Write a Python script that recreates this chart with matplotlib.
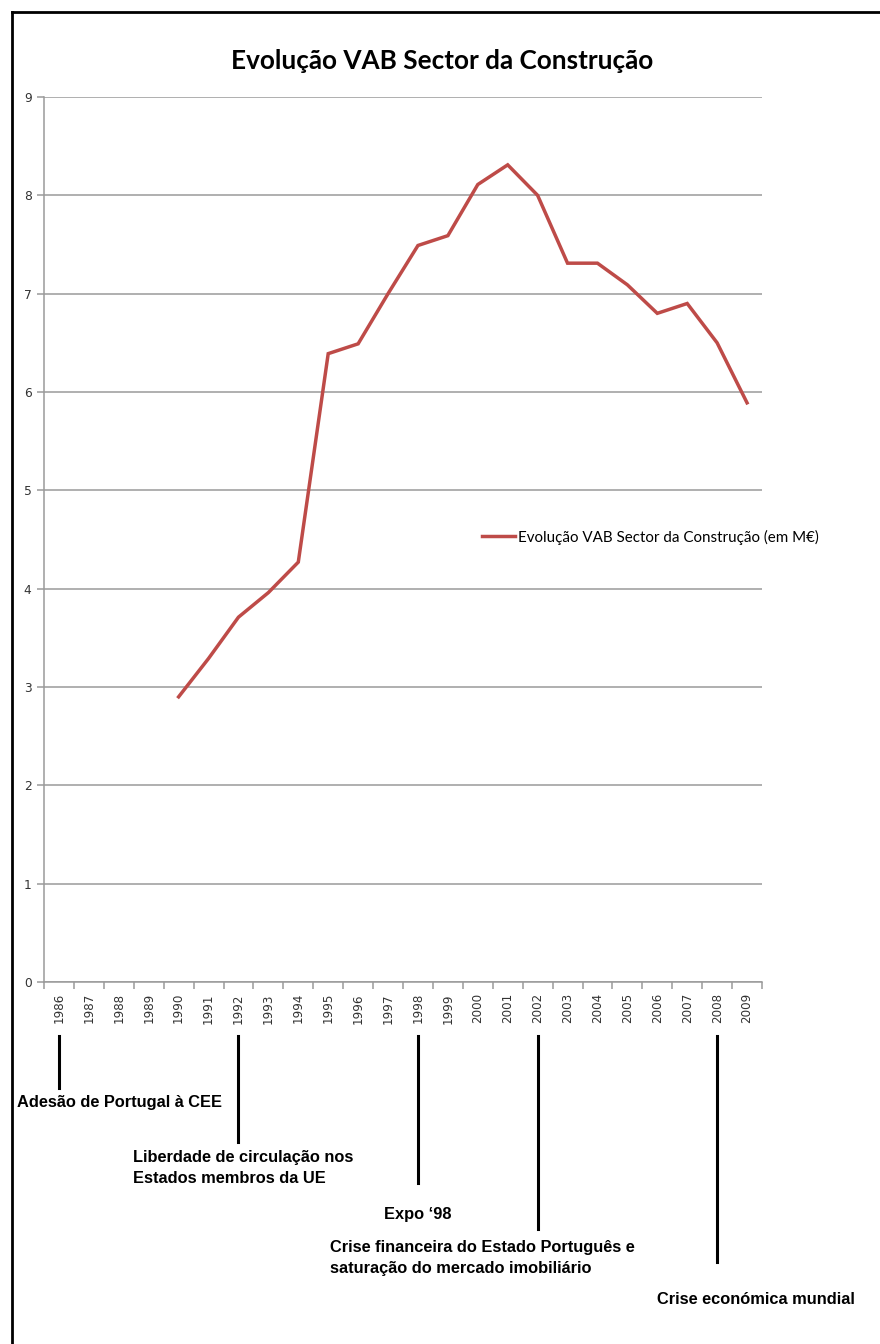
import matplotlib as mpl
mpl.use('Agg')
import matplotlib.pyplot as plt
from matplotlib.lines import Line2D
from matplotlib.transforms import blended_transform_factory

years = [str(y) for y in range(1986, 2010)]
vab_years = list(range(1990, 2010))
vab = [2.90, 3.29, 3.71, 3.96, 4.27, 6.39, 6.49, 7.00, 7.49, 7.59,
       8.11, 8.31, 8.00, 7.31, 7.31, 7.09, 6.80, 6.90, 6.50, 5.89]
series_label = 'Evolução VAB Sector da Construção (em M€)'
title = 'Evolução VAB Sector da Construção'

event_years = [1986, 1992, 1998, 2002, 2008]
event_labels = ['Adesão de Portugal à CEE',
                'Liberdade de circulação nos\nEstados membros da UE',
                'Expo ‘98',
                'Crise financeira do Estado Português e\nsaturação do mercado imobiliário',
                'Crise económica mundial']

W, H = 880, 1344
fig = plt.figure(figsize=(W/100, H/100), dpi=100)
ax = fig.add_axes([44/W, 1-982/H, (762-44)/W, (982-97)/H])

red = '#be4b48'
grid_c = '#9a9a9a'
xs = [years.index(str(y)) for y in vab_years]
line, = ax.plot(xs, vab, color=red, lw=2.5, solid_joinstyle='miter', label=series_label)

ax.set_xlim(-0.5, len(years)-0.5)
ax.set_ylim(0, 9)
ax.set_yticks(range(10))
ax.yaxis.grid(True, color=grid_c, lw=1.1)
ax.set_axisbelow(True)
for s in ['top', 'right']:
    ax.spines[s].set_visible(False)
for s in ['left', 'bottom']:
    ax.spines[s].set_color(grid_c)
    ax.spines[s].set_linewidth(1.1)

ax.set_xticks(range(len(years)))
ax.set_xticklabels(years, rotation=90, fontsize=8.6, color='#333333')
ax.tick_params(axis='x', which='major', length=0, pad=8)
ax.set_xticks([i-0.5 for i in range(len(years)+1)], minor=True)
ax.tick_params(axis='x', which='minor', length=5, color=grid_c, width=1.1)
ax.tick_params(axis='y', length=5, color=grid_c, width=1.1, labelsize=8.8,
               labelcolor='#333333', pad=4)

fig.text(442/W, 1-61/H, title, ha='center', va='center', fontsize=18.8,
         fontweight='bold', family=['Lato', 'DejaVu Sans'])

fig.legend(handles=[line], loc='center left', bbox_to_anchor=(476/W, 1-537/H),
           frameon=False, handlelength=2.2, handletextpad=0.15, borderaxespad=0,
           prop={'family': ['Lato', 'DejaVu Sans'], 'size': 10.9})

# event markers below the axis
tr = blended_transform_factory(ax.transData, fig.transFigure)
line_bottoms = [1088, 1142, 1183, 1229, 1262]
for yr, yb in zip(event_years, line_bottoms):
    xi = years.index(str(yr))
    ax.plot([xi, xi], [1-1036/H, 1-yb/H], color='black', lw=2.2,
            transform=tr, clip_on=False)

text_pos = [(17, 1103), (133, 1168), (384, 1215), (330, 1258), (657, 1300)]
for lab, (px, py) in zip(event_labels, text_pos):
    fig.text(px/W, 1-py/H, lab, ha='left', va='center', fontsize=11.8,
             fontweight='bold', linespacing=1.5,
             family=['Liberation Sans Narrow', 'Liberation Sans'])

# frame on the left and top edges
fig.add_artist(Line2D([12/W, 12/W], [0, 1-12/H], color='black', lw=2))
fig.add_artist(Line2D([12/W, 1], [1-12/H, 1-12/H], color='black', lw=2))

fig.savefig('out.png', dpi=100)
